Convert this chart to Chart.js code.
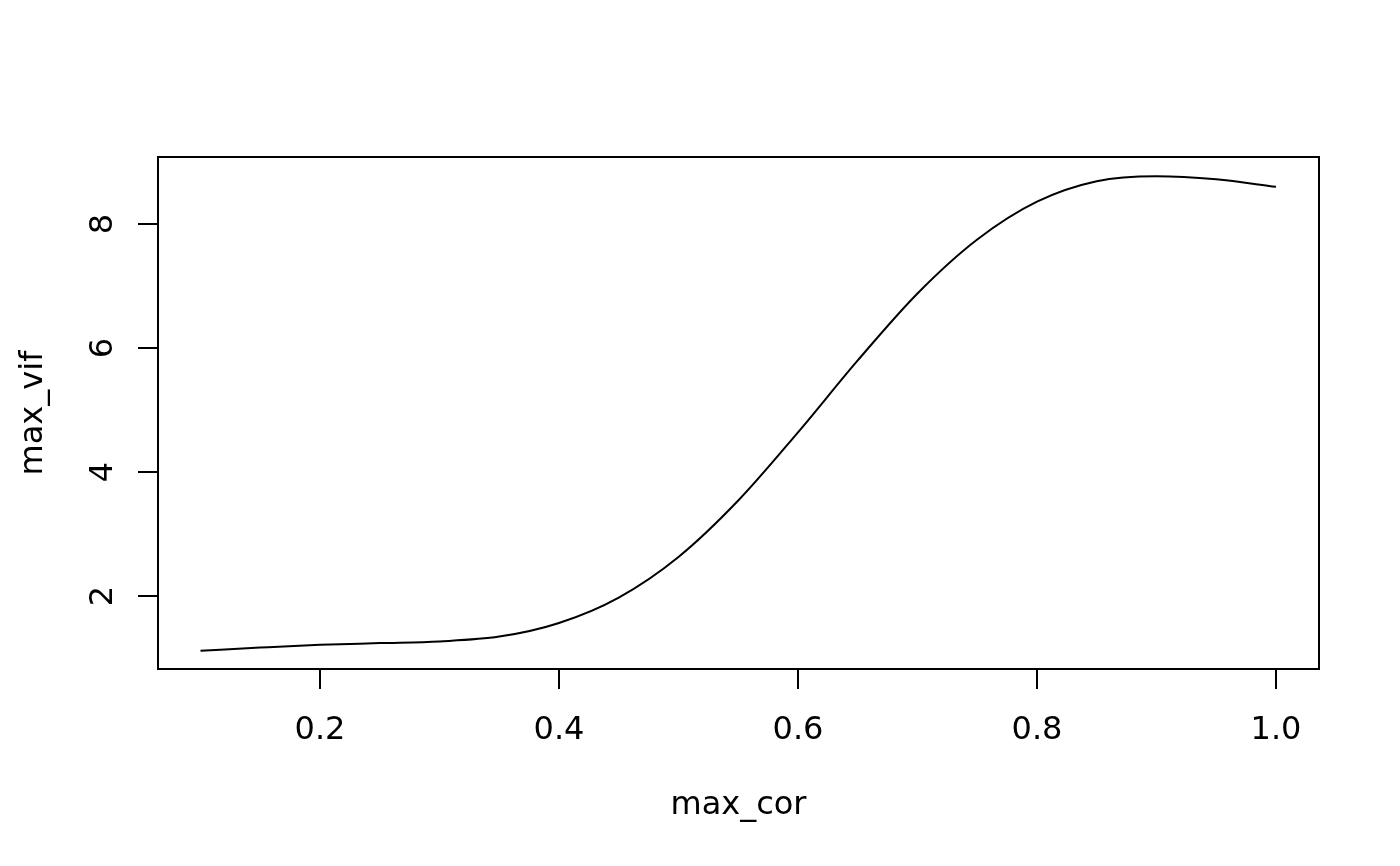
<!DOCTYPE html>
<html>
<head>
<meta charset="utf-8">
<script src="https://cdn.jsdelivr.net/npm/chart.js@4"></script>
<style>
  html, body { margin: 0; padding: 0; background: #ffffff; }
  canvas { display: block; }
</style>
</head>
<body>
<canvas id="c" width="1400" height="866"></canvas>
<script>
// ---- data ----
const maxCor = [0.10, 0.15, 0.20, 0.25, 0.30, 0.35, 0.40, 0.45, 0.50, 0.55, 0.60, 0.65, 0.70, 0.75, 0.80, 0.85, 0.90, 0.95, 1.00];
const maxVif = [1.118, 1.168, 1.212, 1.240, 1.268, 1.345, 1.565, 1.975, 2.63, 3.54, 4.64, 5.80, 6.88, 7.75, 8.36, 8.69, 8.77, 8.72, 8.60];
const xTicks = [0.2, 0.4, 0.6, 0.8, 1.0];
const xTickLabels = ["0.2", "0.4", "0.6", "0.8", "1.0"];
const yTicks = [2, 4, 6, 8];
const yTickLabels = ["2", "4", "6", "8"];
const xTitle = "max_cor";
const yTitle = "max_vif";

const FONT = '32px "DejaVu Sans"';

const rAxesPlugin = {
  id: 'rAxes',
  afterDraw(chart) {
    const ctx = chart.ctx;
    const a = chart.chartArea;
    const xs = chart.scales.x, ys = chart.scales.y;
    ctx.save();
    ctx.strokeStyle = '#000';
    ctx.lineWidth = 2;
    // box
    ctx.strokeRect(a.left, a.top, a.right - a.left, a.bottom - a.top);
    // x ticks
    ctx.beginPath();
    xTicks.forEach(v => {
      const px = Math.round(xs.getPixelForValue(v));
      ctx.moveTo(px, a.bottom);
      ctx.lineTo(px, a.bottom + 20);
    });
    // y ticks
    yTicks.forEach(v => {
      const py = Math.round(ys.getPixelForValue(v));
      ctx.moveTo(a.left, py);
      ctx.lineTo(a.left - 20, py);
    });
    ctx.stroke();
    // labels
    ctx.fillStyle = '#000';
    ctx.font = FONT;
    ctx.textAlign = 'center';
    ctx.textBaseline = 'alphabetic';
    xTicks.forEach((v, i) => {
      ctx.fillText(xTickLabels[i], xs.getPixelForValue(v), 739);
    });
    yTicks.forEach((v, i) => {
      ctx.save();
      ctx.translate(112, ys.getPixelForValue(v));
      ctx.rotate(-Math.PI / 2);
      ctx.fillText(yTickLabels[i], 0, 0);
      ctx.restore();
    });
    ctx.fillText(xTitle, (a.left + a.right) / 2, 814);
    ctx.save();
    ctx.translate(42, (a.top + a.bottom) / 2);
    ctx.rotate(-Math.PI / 2);
    ctx.fillText(yTitle, 0, 0);
    ctx.restore();
    ctx.restore();
  }
};

new Chart(document.getElementById('c'), {
  type: 'scatter',
  data: {
    datasets: [{
      data: maxCor.map((x, i) => ({ x: x, y: maxVif[i] })),
      showLine: true,
      borderColor: '#000000',
      borderWidth: 2,
      pointRadius: 0,
      cubicInterpolationMode: 'monotone',
      fill: false
    }]
  },
  options: {
    responsive: false,
    animation: false,
    devicePixelRatio: 1,
    layout: { padding: { left: 158, top: 157, right: 81, bottom: 197 } },
    plugins: { legend: { display: false }, tooltip: { enabled: false } },
    scales: {
      x: { type: 'linear', min: 0.06444, max: 1.036, display: false },
      y: { type: 'linear', min: 0.8226, max: 9.0806, display: false }
    }
  },
  plugins: [rAxesPlugin]
});
</script>
</body>
</html>
